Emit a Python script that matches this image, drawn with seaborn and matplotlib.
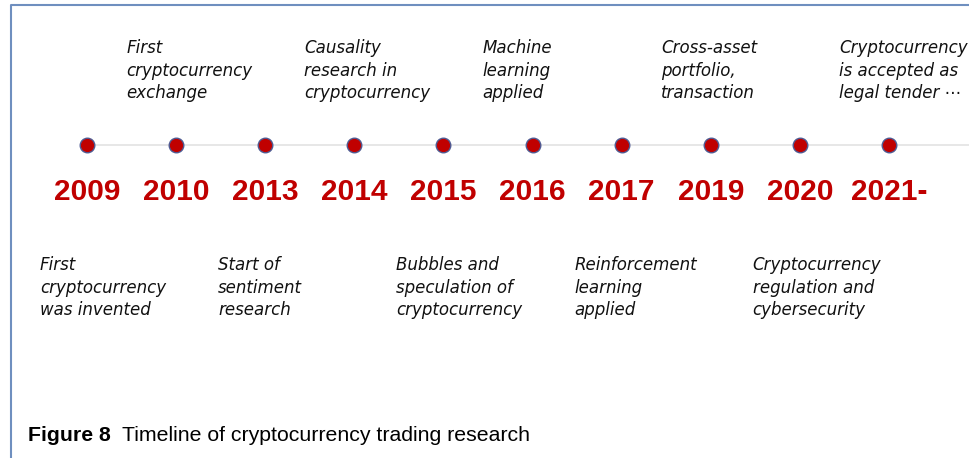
import matplotlib
matplotlib.use("Agg")
import matplotlib.pyplot as plt
import pandas as pd
import seaborn as sns

# Données de la frise chronologique
years = ['2009', '2010', '2013', '2014', '2015', '2016', '2017', '2019', '2020', '2021-']
events = [
    'First\ncryptocurrency\nwas invented',
    'First\ncryptocurrency\nexchange',
    'Start of\nsentiment\nresearch',
    'Causality\nresearch in\ncryptocurrency',
    'Bubbles and\nspeculation of\ncryptocurrency',
    'Machine\nlearning\napplied',
    'Reinforcement\nlearning\napplied',
    'Cross-asset\nportfolio,\ntransaction',
    'Cryptocurrency\nregulation and\ncybersecurity',
    'Cryptocurrency\nis accepted as\nlegal tender \u22ef',
]
sides = ['below', 'above', 'below', 'above', 'below', 'above', 'below', 'above', 'below', 'above']
caption_bold = 'Figure 8'
caption_text = 'Timeline of cryptocurrency trading research'

df = pd.DataFrame({'year': years, 'event': events, 'side': sides})
df['pos'] = range(len(df))
df['y'] = 0

sns.set_theme(style='white')

W, H = 969, 458
fig = plt.figure(figsize=(W / 100, H / 100), dpi=100)
ax = fig.add_axes([0, 0, 1, 1])

# échelle : 1 unité x = écart entre deux points, 1 unité y = 1 pixel
step = (889 - 87) / 9
x_left = -87 / step
x_right = 9 + (W - 889) / step
ax.set_xlim(x_left, x_right)
ax.set_ylim(H - 145, -145)
ax.axis('off')

# ligne de temps
ax.hlines(0, 0, x_right, color='#e3e3e3', lw=1.2, zorder=1)
sns.scatterplot(data=df, x='pos', y='y', ax=ax, s=110, color='#c00000',
                edgecolor='#4f5b93', linewidth=1.0, zorder=3, legend=False)

red = '#c00000'
for _, row in df.iterrows():
    ax.text(row['pos'], 55, row['year'], ha='center', va='baseline',
            fontsize=21.5, fontweight='bold', color=red, family='Liberation Sans')
    if row['side'] == 'above':
        ax.text(row['pos'] - 0.56, -106, row['event'], ha='left', va='top',
                fontsize=12, style='italic', color='#111111', linespacing=1.33,
                family='DejaVu Sans')
    else:
        ax.text(row['pos'] - 0.53, 111, row['event'], ha='left', va='top',
                fontsize=12, style='italic', color='#111111', linespacing=1.33,
                family='DejaVu Sans')

# cadre bleu (haut et gauche)
ax.plot([11 / W, 11 / W, 1], [0, 1 - 5 / H, 1 - 5 / H], transform=ax.transAxes,
        color='#6f8fbf', lw=1.5, clip_on=False)

# légende de la figure
t1 = fig.text(28 / W, 1 - 441 / H, caption_bold, fontsize=15.3, fontweight='bold',
              family='Liberation Sans', color='black', va='baseline')
fig.canvas.draw()
bb = t1.get_window_extent()
fig.text((bb.x1 + 11) / W, 1 - 441 / H, caption_text, fontsize=15.3,
         family='Liberation Sans', color='black', va='baseline')

plt.savefig('out.png', dpi=100)
